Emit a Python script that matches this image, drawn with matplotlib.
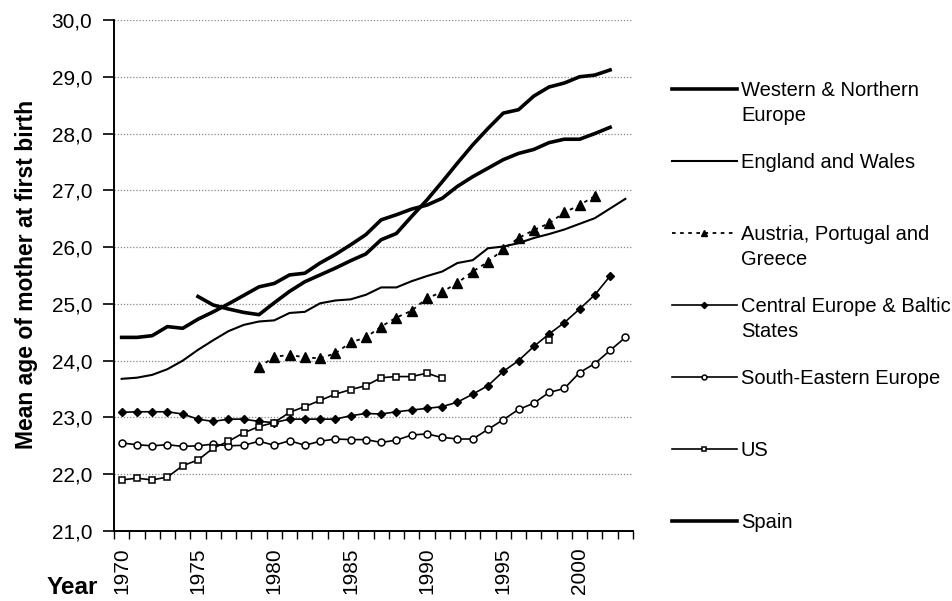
import numpy as np
import matplotlib
matplotlib.use("Agg")
import matplotlib.pyplot as plt
from matplotlib.lines import Line2D
from matplotlib.ticker import FuncFormatter

plt.rcParams['font.family'] = ['Liberation Sans', 'DejaVu Sans']

nan = np.nan
years = list(range(1970, 2004))

western = [24.41, 24.41, 24.44, 24.60, 24.57, 24.73, 24.86, 25.00, 25.15, 25.30,
           25.36, 25.51, 25.54, 25.72, 25.87, 26.04, 26.22, 26.48, 26.57, 26.67,
           26.74, 26.86, 27.07, 27.24, 27.39, 27.54, 27.65, 27.72, 27.84, 27.90,
           27.90, 28.00, 28.11, nan]
england = [23.68, 23.70, 23.75, 23.85, 24.00, 24.19, 24.36, 24.52, 24.63, 24.69,
           24.71, 24.84, 24.86, 25.01, 25.06, 25.08, 25.16, 25.29, 25.29, 25.40,
           25.49, 25.57, 25.72, 25.77, 25.98, 26.01, 26.07, 26.16, 26.23, 26.31,
           26.41, 26.51, 26.68, 26.85]
austria = [nan, nan, nan, nan, nan, nan, nan, nan, nan, 23.88,
           24.07, 24.10, 24.06, 24.04, 24.13, 24.32, 24.41, 24.60, 24.76, 24.88,
           25.10, 25.21, 25.37, 25.57, 25.74, 25.96, 26.16, 26.30, 26.42, 26.61,
           26.74, 26.90, nan, nan]
central = [23.09, 23.10, 23.10, 23.10, 23.06, 22.97, 22.93, 22.97, 22.97, 22.93,
           22.91, 22.97, 22.97, 22.97, 22.97, 23.03, 23.07, 23.06, 23.10, 23.13,
           23.16, 23.19, 23.27, 23.41, 23.56, 23.81, 24.00, 24.25, 24.47, 24.67,
           24.91, 25.16, 25.49, nan]
southeast = [22.55, 22.52, 22.50, 22.52, 22.49, 22.50, 22.53, 22.50, 22.51, 22.58,
             22.51, 22.59, 22.51, 22.58, 22.62, 22.61, 22.61, 22.56, 22.60, 22.69,
             22.71, 22.65, 22.62, 22.62, 22.79, 22.96, 23.14, 23.25, 23.44, 23.51,
             23.79, 23.95, 24.18, 24.41]
us = [21.90, 21.93, 21.90, 21.95, 22.15, 22.25, 22.46, 22.58, 22.73, 22.84,
      22.91, 23.09, 23.19, 23.30, 23.41, 23.49, 23.56, 23.70, 23.72, 23.72,
      23.78, 23.69, nan, nan, nan, nan, nan, nan, 24.37, nan,
      nan, nan, nan, nan]
spain = [nan, nan, nan, nan, nan, 25.13, 24.98, 24.91, 24.85, 24.81,
         25.02, 25.22, 25.39, 25.51, 25.63, 25.76, 25.88, 26.13, 26.24, 26.54,
         26.83, 27.15, 27.48, 27.80, 28.09, 28.36, 28.42, 28.66, 28.82, 28.89,
         29.00, 29.03, 29.12, nan]

labels = ["Western & Northern\nEurope", "England and Wales",
          "Austria, Portugal and\nGreece", "Central Europe & Baltic\nStates",
          "South-Eastern Europe", "US", "Spain"]
series = [western, england, austria, central, southeast, us, spain]

styles = [
    dict(color='black', lw=2.6, ls='-'),
    dict(color='black', lw=1.5, ls='-'),
    dict(color='black', lw=1.3, ls=(0, (2, 2.5)), marker='^', ms=7, mfc='black', mec='black'),
    dict(color='black', lw=1.2, ls='-', marker='D', ms=4.5, mfc='black', mec='black'),
    dict(color='black', lw=1.2, ls='-', marker='o', ms=5, mfc='white', mec='black', mew=1.1),
    dict(color='black', lw=1.2, ls='-', marker='s', ms=5, mfc='white', mec='black', mew=1.1),
    dict(color='black', lw=2.6, ls='-'),
]

W, H = 953, 601
fig = plt.figure(figsize=(W / 100, H / 100), dpi=100)
ax = fig.add_axes([114 / W, 1 - 531 / H, (633 - 114) / W, (531 - 20) / H])

yrs = np.array(years)
for vals, st in zip(series, styles):
    ax.plot(yrs, np.array(vals, dtype=float), **st)

ax.set_xlim(years[0] - 0.5, years[-1] + 0.5)
ax.set_ylim(21, 30)
ax.set_yticks(np.arange(21, 31, 1))
ax.yaxis.set_major_formatter(FuncFormatter(lambda v, p: f"{v:.1f}".replace('.', ',')))
ax.set_xticks(list(range(1970, 2004, 5)))
ax.set_xticklabels([str(y) for y in range(1970, 2004, 5)], rotation=90)
ax.set_xticks(np.arange(years[0] - 0.5, years[-1] + 1.0, 1.0), minor=True)
ax.tick_params(axis='x', which='major', length=0, pad=12, labelsize=15)
ax.tick_params(axis='x', which='minor', length=6, width=1.0, direction='out')
ax.tick_params(axis='y', which='major', length=8, width=1.2, direction='out', labelsize=15, pad=7.5)

for s in ['top', 'right']:
    ax.spines[s].set_visible(False)
ax.spines['left'].set_linewidth(1.4)
ax.spines['bottom'].set_linewidth(1.4)
ax.yaxis.grid(True, linestyle=(0, (1, 1.5)), color='#888888', lw=0.9)
ax.set_axisbelow(True)

fig.text(27 / W, 1 - 274 / H, "Mean age of mother at first birth", fontsize=16.5,
         fontweight='bold', rotation=90, ha='center', va='center')
fig.text(72 / W, 1 - 588 / H, "Year", fontsize=17.5, fontweight='bold', ha='center', va='center')

# legend drawn to the right
x0, x1, xt = 672 / W, 737 / W, 741 / W
for i, (lab, st) in enumerate(zip(labels, styles)):
    yp = 1 - (89 + 72 * i) / H
    kw = dict(st)
    kw.pop('ms', None)
    ln = Line2D([x0, (x0 + x1) / 2, x1], [yp, yp, yp], transform=fig.transFigure,
                markevery=[1], ms=st.get('ms', 0) * 0.7 if 'marker' in st else 0, **kw)
    fig.add_artist(ln)
    fig.text(xt, yp + 8 / H, lab, fontsize=14.5, ha='left', va='top', linespacing=1.4)

fig.savefig("out.png", dpi=100)
